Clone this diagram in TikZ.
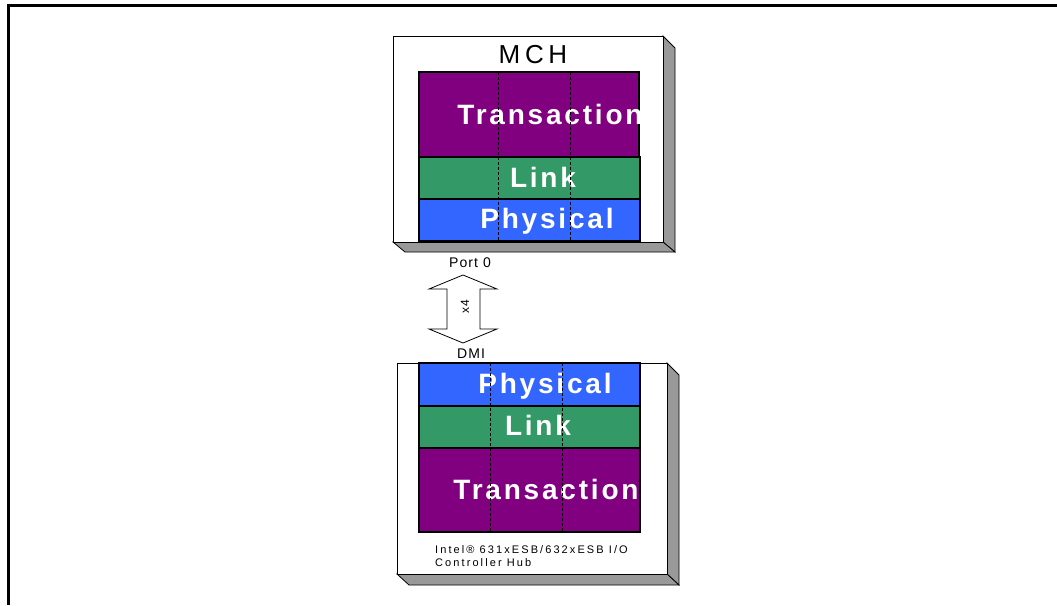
\documentclass[tikz,border=0pt]{standalone}
\usepackage{fontspec}
\setmainfont{Liberation Sans}
\newfontfamily\titolofont[LetterSpace=18]{Liberation Sans}
\newfontfamily\livellofont[LetterSpace=10]{Liberation Sans}
\newfontfamily\piccolofont[LetterSpace=8]{Liberation Sans}
\newfontfamily\notafont[LetterSpace=19]{Liberation Sans}
\definecolor{viola}{HTML}{800080}
\definecolor{verde}{HTML}{339966}
\definecolor{blu}{HTML}{3366FF}
\definecolor{grigioombra}{HTML}{999999}
\begin{document}
\begin{tikzpicture}[x=1pt,y=-1pt,
    ombra/.style={draw=black,fill=grigioombra,line width=0.8pt},
    fronte/.style={draw=black,fill=white,line width=1pt},
    livello/.style={draw=black,line width=1.2pt},
    divisore/.style={densely dashed,line width=0.8pt},
    nomelivello/.style={text=white,inner sep=0pt,anchor=base,
        font=\livellofont\bfseries\fontsize{28}{28}\selectfont},
    piccolo/.style={inner sep=0pt,anchor=base,
        font=\piccolofont\fontsize{14}{14}\selectfont}]

        % Area della pagina
        \useasboundingbox (0,0) rectangle (1057,605);

        % Cornice (solo lati sinistro e superiore)
        \draw[line width=2.5pt] (8.5,605) -- (8.5,5.5) -- (1057,5.5);

        % Blocco MCH con bordo in rilievo
        \draw[ombra] (663,36) -- (675,48) -- (675,252) -- (663,242) -- cycle;
        \draw[ombra] (393,242) -- (405,252) -- (675,252) -- (663,242) -- cycle;
        \draw[fronte] (393,36) rectangle (663,242);

        % Livelli MCH
        \draw[livello, fill=viola] (419,72) rectangle (639,157);
        \draw[livello, fill=verde] (419,157) rectangle (640,199);
        \draw[livello, fill=blu] (419,199) rectangle (640,241);

        % Nomi MCH
        \node[inner sep=0pt, anchor=base, font=\titolofont\fontsize{26}{26}\selectfont] (mchNome) at (533,63) {MCH};
        \node[nomelivello] (mchTrans) at (550,124) {Transaction};
        \node[nomelivello] (mchLink) at (543,187) {Link};
        \node[nomelivello] (mchPhys) at (547,228) {Physical};

        % Divisori tratteggiati MCH
        \draw[divisore] (498,72) -- (498,242);
        \draw[divisore] (570,72) -- (570,242);

        % Freccia doppia DMI
        \draw[fill=white, line width=0.8pt] (463,275) -- (497,289) -- (480,289) -- (480,329)
            -- (497,329) -- (463,343) -- (429,329) -- (447,329) -- (447,289) -- (429,289) -- cycle;
        \node[inner sep=0pt, rotate=90, font=\piccolofont\fontsize{12}{12}\selectfont] (larghezza) at (465,307) {x4};
        \node[piccolo] (porta) at (470,267) {Port 0};
        \node[piccolo] (dmi) at (471,358) {DMI};

        % Blocco ICH con bordo in rilievo
        \draw[ombra] (667,363) -- (679,375) -- (679,585) -- (667,574) -- cycle;
        \draw[ombra] (397,574) -- (409,585) -- (679,585) -- (667,574) -- cycle;
        \draw[fronte] (397,363) rectangle (667,574);

        % Livelli ICH
        \draw[livello, fill=blu] (419,363) rectangle (640,406);
        \draw[livello, fill=verde] (419,406) rectangle (640,448);
        \draw[livello, fill=viola] (419,448) rectangle (640,532);

        % Nomi ICH
        \node[nomelivello] (ichPhys) at (545,393) {Physical};
        \node[nomelivello] (ichLink) at (538,435) {Link};
        \node[nomelivello] (ichTrans) at (546,499) {Transaction};

        % Divisori tratteggiati ICH
        \draw[divisore] (490,363) -- (490,532);
        \draw[divisore] (562,363) -- (562,532);

        % Didascalia del componente
        \node[inner sep=0pt, anchor=north west, align=left,
            font=\notafont\fontsize{11}{13}\selectfont] (ichNome) at (435,545)
            {Intel® 631xESB/632xESB I/O\\Controller Hub};

    \end{tikzpicture}
\end{document}
